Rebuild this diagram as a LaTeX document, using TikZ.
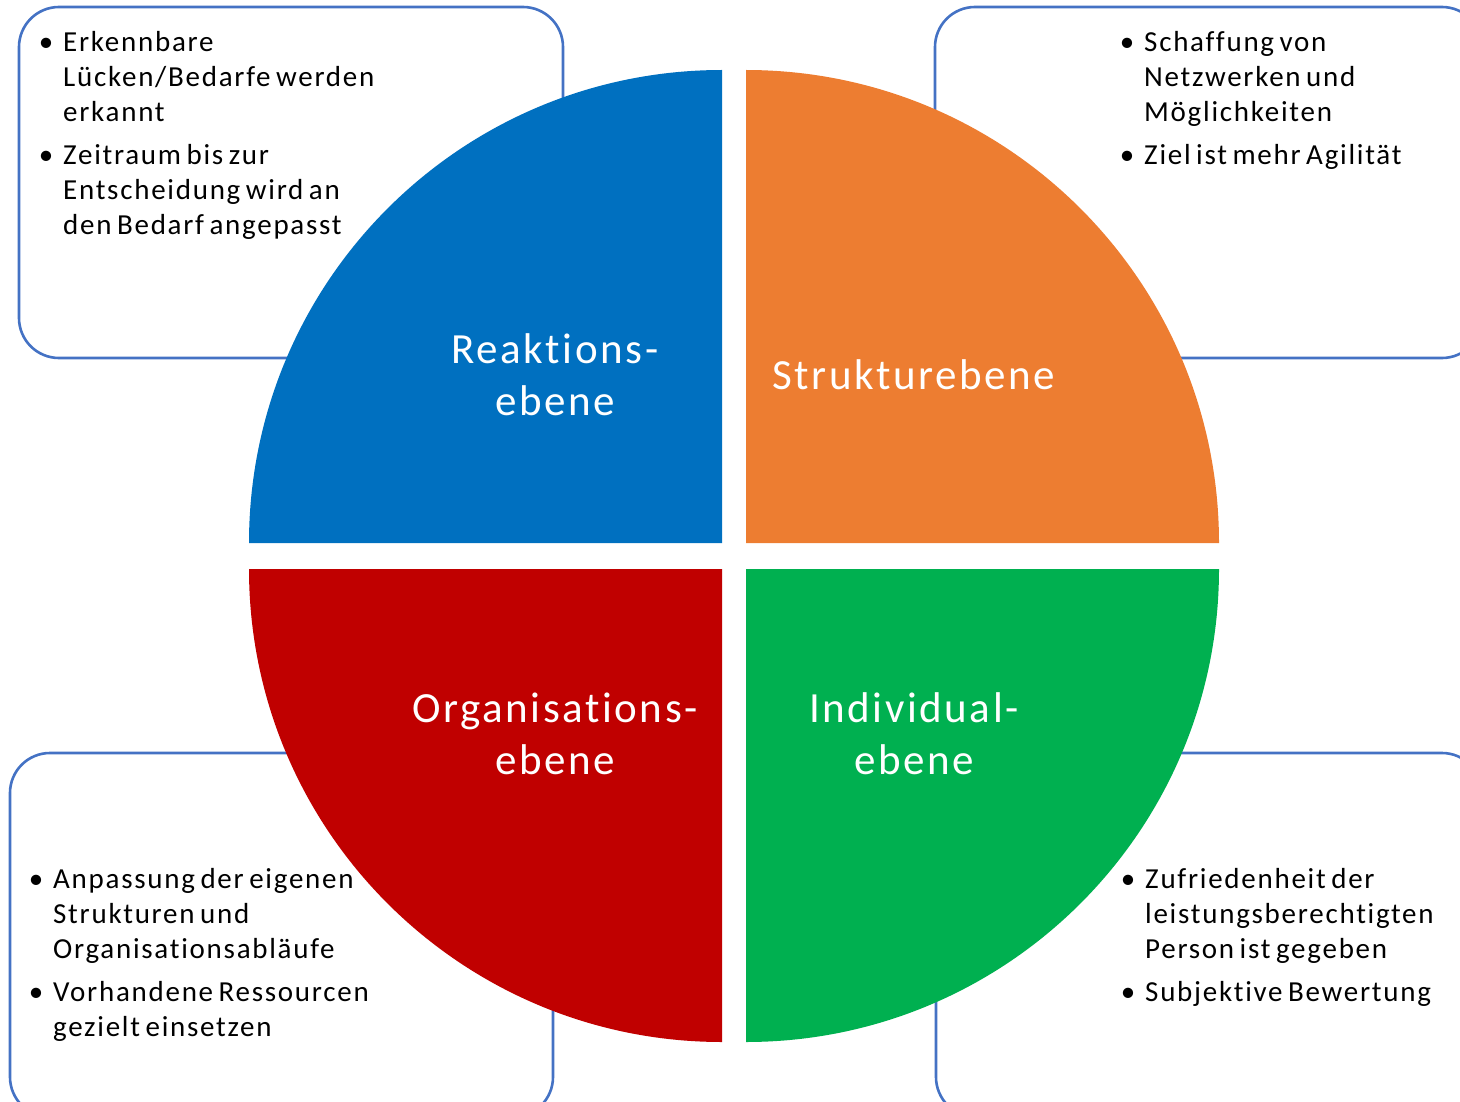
\documentclass[tikz,border=0pt]{standalone}
\usepackage{fontspec}
\setmainfont{Carlito}[LetterSpace=6,Ligatures=NoCommon]
\definecolor{qblue}{HTML}{0070C0}
\definecolor{qorange}{HTML}{ED7D31}
\definecolor{qred}{HTML}{C00000}
\definecolor{qgreen}{HTML}{00B050}
\definecolor{boxline}{HTML}{4472C4}
\newcommand{\bitem}{\par\hangindent=22pt\hangafter=1\noindent\makebox[22pt][l]{\hspace*{5pt}\makebox[0pt][c]{•}}}
\newcommand{\itemgap}{\par\vspace{8pt}}
\tikzset{
  infobox/.style={draw=boxline, line width=2.6pt, fill=white, rounded corners=40pt},
  biglabel/.style={text=white, align=center, inner sep=0pt, font=\fontsize{43}{52}\selectfont},
  bullets/.style={anchor=base west, inner sep=0pt, font=\fontsize{29}{35}\selectfont}
}
\begin{document}
\begin{tikzpicture}[x=1pt,y=1pt]
\useasboundingbox (0,0) rectangle (1460,-1102);
\clip (0,0) rectangle (1460,-1102);
% boxes
\draw[infobox] (19,-7) rectangle (563,-358);
\draw[infobox] (935,-7) rectangle (1482,-358);
\draw[infobox] (10,-753) rectangle (553,-1117);
\draw[infobox] (936,-753) rectangle (1482,-1117);
% quadrants
\fill[qblue] (722,-543) -- (249,-543) arc[start angle=180,end angle=90,radius=473pt] -- cycle;
\fill[qorange] (746,-543) -- (746,-70) arc[start angle=90,end angle=0,radius=473pt] -- cycle;
\fill[qred] (722,-569) -- (249,-569) arc[start angle=180,end angle=270,radius=473pt] -- cycle;
\fill[qgreen] (746,-569) -- (1219,-569) arc[start angle=0,end angle=-90,radius=473pt] -- cycle;
% labels
\node[biglabel] (reak) at (555,-375) {Reaktions-\\ebene};
\node[biglabel] (strk) at (914,-375) {Strukturebene};
\node[biglabel] (orga) at (555,-734) {Organisations-\\ebene};
\node[biglabel] (indi) at (914,-734) {Individual-\\ebene};
% bullet texts
\node[bullets] (tltext) at (41,-52) {\parbox[t]{500pt}{\spaceskip=5.5pt plus 1pt\bitem Erkennbare\\Lücken/Bedarfe werden\\erkannt\itemgap\bitem Zeitraum bis zur\\Entscheidung wird an\\den Bedarf angepasst}};
\node[bullets] (trtext) at (1122,-52) {\parbox[t]{500pt}{\spaceskip=5.5pt plus 1pt\bitem Schaffung von\\Netzwerken und\\Möglichkeiten\itemgap\bitem Ziel ist mehr Agilität}};
\node[bullets] (bltext) at (31,-888) {\parbox[t]{500pt}{\spaceskip=5.5pt plus 1pt\bitem Anpassung der eigenen\\Strukturen und\\Organisationsabläufe\itemgap\bitem Vorhandene Ressourcen\\gezielt einsetzen}};
\node[bullets] (brtext) at (1123,-888) {\parbox[t]{500pt}{\spaceskip=5.5pt plus 1pt\bitem Zufriedenheit der\\leistungsberechtigten\\Person ist gegeben\itemgap\bitem Subjektive Bewertung}};
\end{tikzpicture}
\end{document}
